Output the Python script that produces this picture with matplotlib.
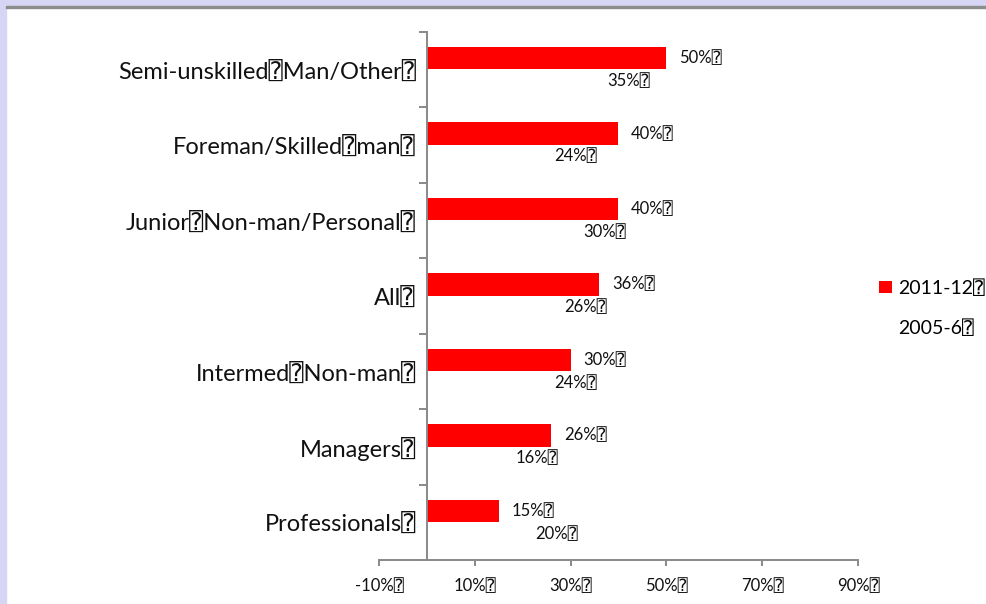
import numpy as np
import matplotlib
matplotlib.use("Agg")
from matplotlib import pyplot as plt
from matplotlib.patches import Rectangle

plt.rcParams['font.family'] = ['Lato', 'DejaVu Sans', 'DejaVu Sans Mono']

BOX = "\u2370"  # the missing-glyph box seen after every label

# categories top to bottom
categories = ["Semi-unskilled" + BOX + "Man/Other", "Foreman/Skilled" + BOX + "man",
              "Junior" + BOX + "Non-man/Personal", "All", "Intermed" + BOX + "Non-man",
              "Managers", "Professionals"]
share_2011 = [50, 40, 40, 36, 30, 26, 15]
share_2005 = [35, 24, 30, 26, 24, 16, 20]
series_names = ["2011-12", "2005-6"]
xticks = [-10, 10, 30, 50, 70, 90]

W, H = 987, 604
fig = plt.figure(figsize=(W / 100, H / 100), dpi=100)

# lavender frame on top and left, grey rule under the top band
fig.patches.append(Rectangle((0, 1 - 6 / H), 1, 6 / H, transform=fig.transFigure,
                             color="#d6d6f4", zorder=0))
fig.patches.append(Rectangle((0, 0), 6 / W, 1, transform=fig.transFigure,
                             color="#d6d6f4", zorder=0))
fig.patches.append(Rectangle((6 / W, 1 - 8 / H), 1, 2 / H, transform=fig.transFigure,
                             color="#8c8c8c", zorder=1))

ax = fig.add_axes([379 / W, 1 - 560 / H, (858 - 379) / W, (560 - 31.7) / H])

n = len(categories)
y = np.arange(n)[::-1]  # first category on top
h = 0.3

b1 = ax.barh(y + h / 2, share_2011, height=h, color="#ff0000", label=series_names[0])
b2 = ax.barh(y - h / 2, share_2005, height=h, color="white", label=series_names[1])

lab_font = 12
for yy, v in zip(y, share_2011):
    ax.annotate(f"{v}%" + BOX, (v, yy + h / 2), xytext=(9, 0), textcoords="offset points",
                ha="left", va="center", fontsize=lab_font, color="#111111")
for yy, v in zip(y, share_2005):
    ax.annotate(f"{v}%" + BOX, (v, yy - h / 2), xytext=(9, 0), textcoords="offset points",
                ha="left", va="center", fontsize=lab_font, color="#111111")

ax.set_xlim(-10, 90)
ax.set_ylim(-0.5, n - 0.5)

grey = "#898989"
for s in ["top", "right"]:
    ax.spines[s].set_visible(False)
ax.spines["left"].set_position(("data", 0))
ax.spines["left"].set_color(grey)
ax.spines["bottom"].set_color(grey)
ax.spines["left"].set_linewidth(1.4)
ax.spines["bottom"].set_linewidth(1.4)

ax.set_xticks(xticks)
ax.set_xticklabels([f"{t}%" + BOX for t in xticks], fontsize=12, color="#111111")
ax.tick_params(axis="x", length=4, width=1.4, color=grey, pad=9)

# y ticks at the category boundaries, labels at the centres
ax.set_yticks(np.arange(n + 1) - 0.5)
ax.set_yticklabels([])
ax.tick_params(axis="y", which="major", length=6, width=1.4, color=grey)
ax.set_yticks(y, minor=True)
ax.set_yticklabels([c + BOX for c in categories], minor=True, fontsize=17, color="#111111")
ax.tick_params(axis="y", which="minor", length=0, pad=8)

fig.legend(handles=[b1, b2], labels=[s + BOX for s in series_names], loc="center left",
           bbox_to_anchor=(862 / W, 1 - 308 / H), frameon=False, fontsize=14,
           handlelength=0.65, handleheight=0.65, handletextpad=0.3, labelspacing=1.15)

fig.savefig("out.png", dpi=100)
